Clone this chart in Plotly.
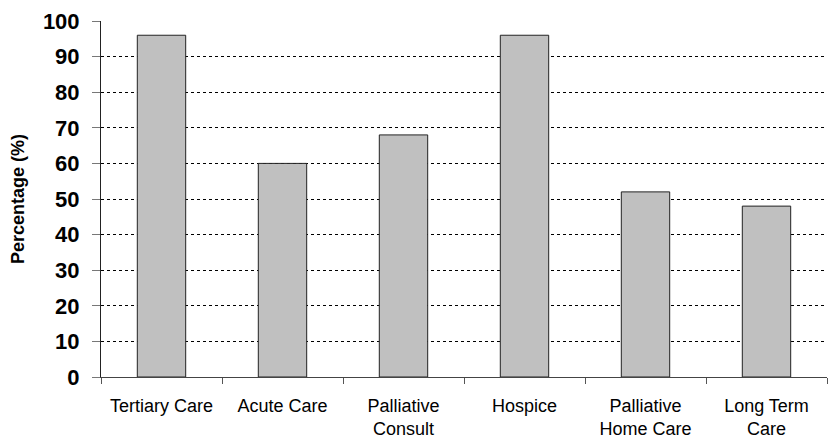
import plotly.graph_objects as go

categories = ["Tertiary Care", "Acute Care", "Palliative<br>Consult", "Hospice",
              "Palliative<br>Home Care", "Long Term<br>Care"]
percentages = [96, 60, 68, 96, 52, 48]
y_ticks = [0, 10, 20, 30, 40, 50, 60, 70, 80, 90, 100]

W, H = 831, 440
ML, MR, MT, MB = 101, 4, 21, 63

fig = go.Figure(
    go.Bar(
        x=categories,
        y=percentages,
        width=0.4,
        marker=dict(color="#C0C0C0", line=dict(color="#222222", width=1)),
    )
)

fig.update_layout(
    width=W,
    height=H,
    margin=dict(l=ML, r=MR, t=MT, b=MB),
    plot_bgcolor="white",
    paper_bgcolor="white",
    showlegend=False,
    font=dict(family="Liberation Sans, Arial, sans-serif", color="black"),
)

fig.update_xaxes(
    automargin=False,
    showline=True,
    linecolor="#444444",
    linewidth=1,
    ticks="outside",
    tickson="boundaries",
    ticklen=6,
    tickcolor="#555555",
    tickfont=dict(size=18, color="black"),
    ticklabelstandoff=12,
    showgrid=False,
)

fig.update_yaxes(
    automargin=False,
    range=[0, 100],
    tickvals=y_ticks,
    showline=True,
    linecolor="#222222",
    linewidth=1,
    ticks="outside",
    ticklen=8,
    tickcolor="#777777",
    tickfont=dict(size=22, color="black", weight="bold"),
    ticklabelstandoff=8,
    showgrid=True,
    gridcolor="black",
    griddash="dot",
    gridwidth=1,
    zeroline=False,
)

fig.add_annotation(
    text="<b>Percentage (%)</b>",
    xref="paper",
    yref="paper",
    x=-(ML - 18) / (W - ML - MR),
    y=0.5,
    xanchor="center",
    yanchor="middle",
    textangle=-90,
    showarrow=False,
    font=dict(size=18, color="black"),
)

fig.write_html("out.html")
